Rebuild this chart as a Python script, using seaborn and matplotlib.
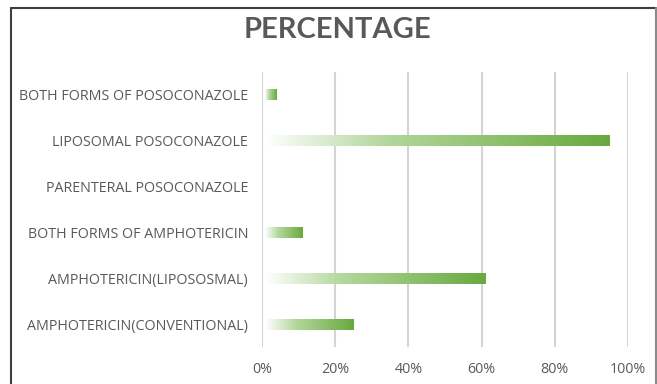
import numpy as np
import pandas as pd
import matplotlib
matplotlib.use("Agg")
import matplotlib.pyplot as plt
from matplotlib.colors import LinearSegmentedColormap
import seaborn as sns

categories = [
    "BOTH FORMS OF POSOCONAZOLE",
    "LIPOSOMAL POSOCONAZOLE",
    "PARENTERAL POSOCONAZOLE",
    "BOTH FORMS OF AMPHOTERICIN",
    "AMPHOTERICIN(LIPOSOSMAL)",
    "AMPHOTERICIN(CONVENTIONAL)",
]
percentages = [4, 95, 0, 11, 61, 25]
x_ticks = [0, 20, 40, 60, 80, 100]
x_tick_labels = ["0%", "20%", "40%", "60%", "80%", "100%"]

sns.set_style("white")
plt.rcParams["font.family"] = ["Open Sans", "DejaVu Sans"]

df = pd.DataFrame({"category": categories, "pct": percentages})

fig = plt.figure(figsize=(6.57, 3.84), dpi=100)
ax = fig.add_axes([262 / 657, 1 - 347 / 384, (628 - 262) / 657, (347 - 72) / 384])

sns.barplot(data=df, x="pct", y="category", order=categories, ax=ax,
            color="#70AD47", width=0.24, orient="h", zorder=3)

cmap = LinearSegmentedColormap.from_list(
    "grad", [(0.0, "#ffffff"), (0.35, "#b3d79c"), (1.0, "#68a93e")])
grad = np.linspace(0, 1, 256).reshape(1, -1)
for p in list(ax.patches):
    w = p.get_width()
    if w <= 0:
        p.set_visible(False)
        continue
    x0, y0, h = p.get_x(), p.get_y(), p.get_height()
    p.set_facecolor("none")
    p.set_edgecolor("none")
    im = ax.imshow(grad, cmap=cmap, aspect="auto", extent=(x0 + 0.8, x0 + w, y0 + h, y0),
                   zorder=3, interpolation="bilinear")
    im.set_clip_path(p)

ax.set_xlim(0, 100)
ax.set_ylim(5.5, -0.5)
ax.set_xticks(x_ticks)
ax.set_xticklabels(x_tick_labels)
ax.xaxis.grid(True, color="#d4d4d4", linewidth=1.5, zorder=0)
ax.yaxis.grid(False)
for s in ax.spines.values():
    s.set_visible(False)
ax.set_xlabel("")
ax.set_ylabel("")
ax.tick_params(axis="y", length=0, pad=10, labelsize=10.3, labelcolor="#595959")
ax.tick_params(axis="x", length=0, pad=11, labelsize=10.3, labelcolor="#595959")

fig.text(337 / 657, 1 - 30 / 384, "PERCENTAGE", ha="center", va="center",
         fontsize=21, fontweight="bold", color="#595959", family=["Lato", "DejaVu Sans"])

# outer frame
fig.add_artist(plt.Line2D([11 / 657, 11 / 657], [0, 1 - 8 / 384], transform=fig.transFigure,
                          color="#3f3f3f", linewidth=1.5))
fig.add_artist(plt.Line2D([11 / 657, 656 / 657], [1 - 8 / 384, 1 - 8 / 384], transform=fig.transFigure,
                          color="#3f3f3f", linewidth=1.5))
fig.add_artist(plt.Line2D([655.5 / 657, 655.5 / 657], [0, 1 - 8 / 384], transform=fig.transFigure,
                          color="#8a8a8a", linewidth=1.5))

fig.savefig("out.png", dpi=100)
